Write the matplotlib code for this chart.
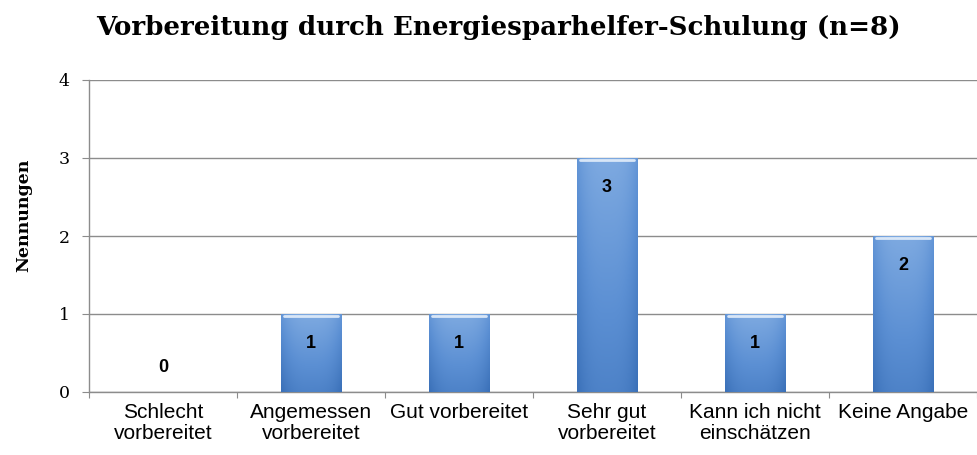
import numpy as np
import matplotlib.pyplot as plt
from matplotlib.colors import LinearSegmentedColormap

kategorien = ['Schlecht\nvorbereitet', 'Angemessen\nvorbereitet', 'Gut vorbereitet',
              'Sehr gut\nvorbereitet', 'Kann ich nicht\neinschätzen', 'Keine Angabe']
nennungen = [0, 1, 1, 3, 1, 2]

fig = plt.figure(figsize=(9.78, 4.55), dpi=100)
ax = fig.add_axes([89/978, 1-392/455, 888/978, 312/455])

x = np.arange(len(kategorien))
breite = 0.41
bars = ax.bar(x, nennungen, width=breite, color='#5b8ed2', edgecolor='#4a7cc0',
              linewidth=0.6, zorder=3)

# verlauf in den balken
cmap = LinearSegmentedColormap.from_list('blau', ['#3a70b8', '#5b8fd3', '#86b0e4'])
gx = np.linspace(-1, 1, 60)
gy = np.linspace(0, 1, 100)
GX, GY = np.meshgrid(gx, gy)
verlauf = 0.6*GY + 0.3*(1 - np.abs(GX)**3)
for b, v in zip(bars, nennungen):
    if v <= 0:
        continue
    x0 = b.get_x()
    im = ax.imshow(verlauf, cmap=cmap, extent=[x0, x0+breite, 0, v], origin='lower',
                   aspect='auto', zorder=3.5, vmin=0, vmax=1)
    im.set_clip_path(b)
    # heller rand oben
    ax.plot([x0+0.02, x0+breite-0.02], [v-0.03, v-0.03], color='#d8e6f7', lw=2, zorder=4,
            solid_capstyle='round')

for xi, v in zip(x, nennungen):
    if v == 0:
        ax.text(xi, 0.31, str(v), ha='center', va='center', fontsize=13,
                fontweight='bold', family='Liberation Sans', zorder=5)
    else:
        ax.annotate(str(v), xy=(xi, v), xytext=(0, -21), textcoords='offset points',
                    ha='center', va='center', fontsize=13, fontweight='bold',
                    family='Liberation Sans', zorder=5)

ax.set_xlim(-0.5, len(kategorien)-0.5)
ax.set_ylim(0, 4)
ax.set_yticks([0, 1, 2, 3, 4])
ax.yaxis.grid(True, color='#8c8c8c', lw=1, zorder=1)
ax.set_axisbelow(True)

ax.set_xticks(np.arange(len(kategorien)+1) - 0.5)
ax.set_xticklabels([])
ax.set_xticks(x, minor=True)
ax.set_xticklabels(kategorien, minor=True, fontsize=15, family='Liberation Sans',
                   linespacing=1.1)
ax.tick_params(axis='x', which='minor', length=0, pad=8)
ax.tick_params(axis='x', which='major', length=4.5, direction='out', color='#8c8c8c')
ax.tick_params(axis='y', length=5, direction='out', color='#8c8c8c', pad=9)
for t in ax.get_yticklabels():
    t.set_family('DejaVu Serif')
    t.set_fontsize(12.5)

for s in ['top', 'right']:
    ax.spines[s].set_visible(False)
for s in ['left', 'bottom']:
    ax.spines[s].set_color('#8c8c8c')
    ax.spines[s].set_linewidth(1)

ax.set_ylabel('Nennungen', fontsize=12.5, fontweight='bold', family='DejaVu Serif')
ax.yaxis.set_label_coords(-57/888, 0.565)

fig.text(498/978, 1-35/455, 'Vorbereitung durch Energiesparhelfer-Schulung (n=8)',
         ha='center', va='baseline', fontsize=18.8, fontweight='bold', family='DejaVu Serif')

plt.savefig('out.png', dpi=100)
